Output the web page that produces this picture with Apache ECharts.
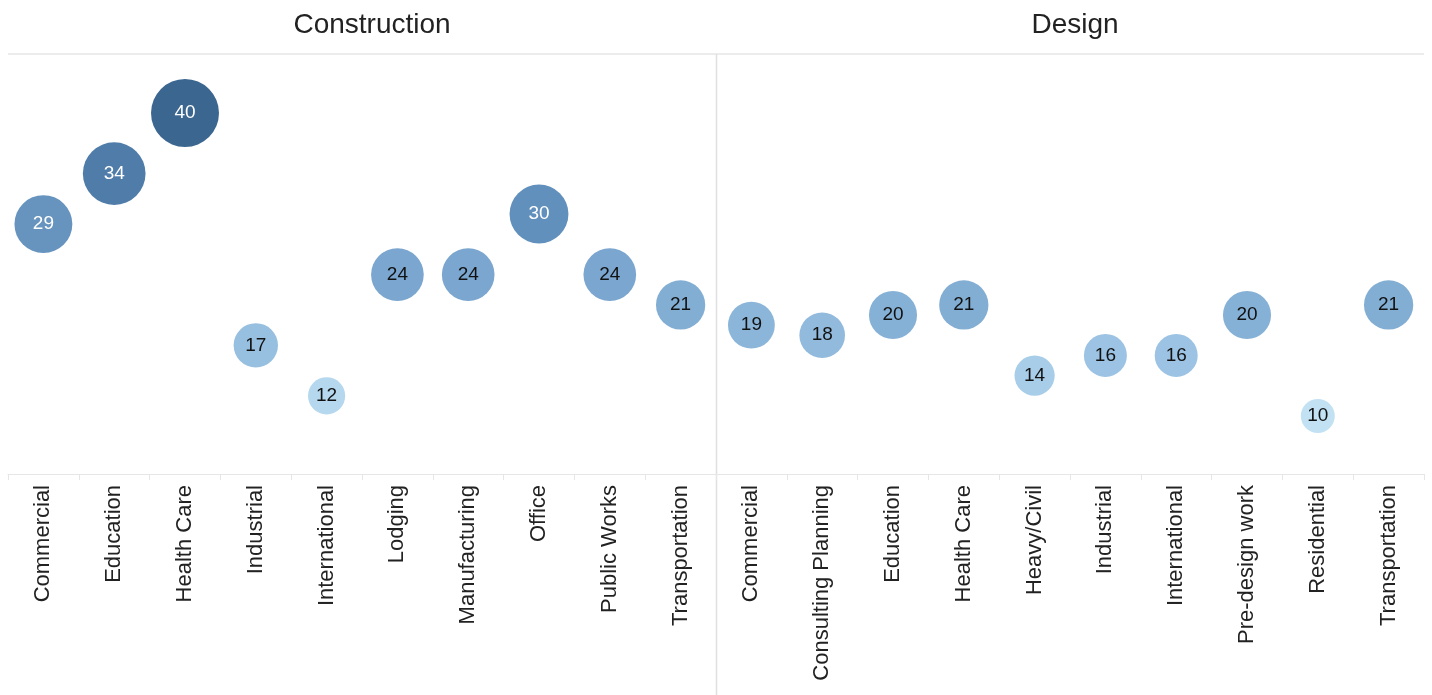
<!DOCTYPE html>
<html><head><meta charset="utf-8">
<script src="https://cdn.jsdelivr.net/npm/echarts@6/dist/echarts.min.js"></script>
<style>html,body{margin:0;padding:0;background:#fff}#c{width:1432px;height:695px}</style>
</head><body><div id="c"></div>
<script>
const panelTitles = ['Construction', 'Design'];
const constructionCats = ['Commercial','Education','Health Care','Industrial','International','Lodging','Manufacturing','Office','Public Works','Transportation'];
const constructionVals = [29,34,40,17,12,24,24,30,24,21];
const designCats = ['Commercial','Consulting Planning','Education','Health Care','Heavy/Civil','Industrial','International','Pre-design work','Residential','Transportation'];
const designVals = [19,18,20,21,14,16,16,20,10,21];

const FONT = '"Liberation Sans", Arial, sans-serif';
const chart = echarts.init(document.getElementById('c'));

function mkData(cats, vals) {
  return cats.map((c, i) => ({
    value: [c, vals[i]],
    label: { color: vals[i] >= 27 ? '#ffffff' : '#111111' }
  }));
}
const grids = [
  { left: 8, width: 708, top: 54, height: 420 },
  { left: 716, width: 708, top: 54, height: 420 }
];
function xAx(cats, gi) {
  return {
    type: 'category', gridIndex: gi, data: cats,
    axisLine: { show: true, lineStyle: { color: '#e6e6e6', width: 1 } },
    axisTick: { show: true, alignWithLabel: false, length: 6, lineStyle: { color: '#e6e6e6' } },
    axisLabel: { rotate: 90, margin: 11, fontSize: 22, color: '#222', fontFamily: FONT, interval: 0 },
    splitLine: { show: false }
  };
}
function yAx(gi) {
  return { type: 'value', gridIndex: gi, min: 4.26, max: 45.84, show: false };
}
function ser(cats, vals, gi) {
  return {
    type: 'scatter', xAxisIndex: gi, yAxisIndex: gi,
    data: mkData(cats, vals),
    symbolSize: d => 10.75 * Math.sqrt(d[1]),
    itemStyle: { opacity: 1 },
    label: { show: true, position: 'inside', fontSize: 19, fontFamily: FONT, formatter: p => p.value[1] }
  };
}
chart.setOption({
  animation: false,
  title: [
    { text: panelTitles[0], left: 367, top: 6, textAlign: 'center', textStyle: { fontSize: 28, fontWeight: 'normal', color: '#222', fontFamily: FONT } },
    { text: panelTitles[1], left: 1070, top: 6, textAlign: 'center', textStyle: { fontSize: 28, fontWeight: 'normal', color: '#222', fontFamily: FONT } }
  ],
  grid: grids,
  xAxis: [xAx(constructionCats, 0), xAx(designCats, 1)],
  yAxis: [yAx(0), yAx(1)],
  visualMap: {
    show: false, type: 'continuous', min: 10, max: 40, dimension: 1, seriesIndex: [0, 1],
    inRange: { color: ['#c2e2f4', '#a2c8e6', '#86b1d6', '#77a3cd', '#6290bc', '#4a77a4', '#3b6690'] }
  },
  series: [ser(constructionCats, constructionVals, 0), ser(designCats, designVals, 1)],
  graphic: [
    { type: 'line', shape: { x1: 8, y1: 54, x2: 1424, y2: 54 }, style: { stroke: '#e6e6e6', lineWidth: 1.5 }, silent: true },
    { type: 'line', shape: { x1: 716.5, y1: 54, x2: 716.5, y2: 695 }, style: { stroke: '#e0e0e0', lineWidth: 1.5 }, silent: true }
  ]
});
</script></body></html>
